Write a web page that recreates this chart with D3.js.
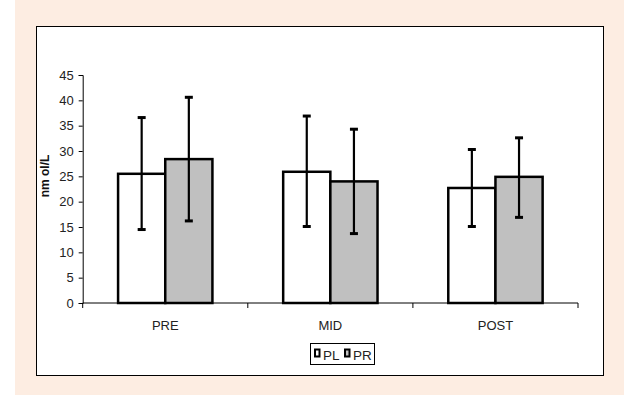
<!DOCTYPE html>
<html>
<head>
<meta charset="utf-8">
<script src="https://cdn.jsdelivr.net/npm/d3@7"></script>
<style>
  body { margin: 0; background: #fff; }
  text { font-family: "Liberation Sans", Arial, sans-serif; }
</style>
</head>
<body>
<svg id="main-svg" width="639" height="395"></svg>
<script>
// chart data
var categories = ['PRE', 'MID', 'POST'];
var series = ['PL', 'PR'];
var plMean = [25.5, 25.9, 22.7];
var prMean = [28.4, 24.0, 24.9];
var plUpper = [36.6, 36.9, 30.3];
var plLower = [14.5, 15.1, 15.1];
var prUpper = [40.6, 34.3, 32.6];
var prLower = [16.2, 13.7, 16.9];
var yTicks = [0, 5, 10, 15, 20, 25, 30, 35, 40, 45];

var fills = { PL: '#ffffff', PR: '#c0c0c0' };

var svg = d3.select('#main-svg');

// peach page panel and white chart box
svg.append('rect')
    .attr('x', 15).attr('y', 0)
    .attr('width', 609).attr('height', 395)
    .attr('fill', '#fdede2');
svg.append('rect')
    .attr('x', 36.5).attr('y', 26.5)
    .attr('width', 567).attr('height', 349)
    .attr('fill', '#ffffff')
    .attr('stroke', '#000').attr('stroke-width', 1);

var x0 = 82.7, x1 = 578, yTop = 75, yBot = 303;

var x = d3.scaleBand().domain(categories).range([x0, x1]).paddingInner(0).paddingOuter(0);
var xs = d3.scaleBand().domain(series).range([0, x.bandwidth()]).paddingInner(0).paddingOuter(0.75);
var y = d3.scaleLinear().domain([0, 45]).range([yBot, yTop]);

var rows = categories.map(function(c, i) {
    return [
        { cat: c, s: 'PL', v: plMean[i], hi: plUpper[i], lo: plLower[i] },
        { cat: c, s: 'PR', v: prMean[i], hi: prUpper[i], lo: prLower[i] }
    ];
});
var flat = [].concat.apply([], rows);

// bars
svg.append('g').selectAll('rect')
    .data(flat).enter().append('rect')
    .attr('x', function(d) { return x(d.cat) + xs(d.s); })
    .attr('y', function(d) { return y(d.v); })
    .attr('width', xs.bandwidth())
    .attr('height', function(d) { return y(0) - y(d.v); })
    .attr('fill', function(d) { return fills[d.s]; })
    .attr('stroke', '#000')
    .attr('stroke-width', 2.5);

// error bars
var err = svg.append('g').attr('stroke', '#000').attr('stroke-width', 2.2);
flat.forEach(function(d) {
    var cx = x(d.cat) + xs(d.s) + xs.bandwidth() / 2;
    err.append('line').attr('x1', cx).attr('x2', cx).attr('y1', y(d.hi)).attr('y2', y(d.lo));
    err.append('line').attr('x1', cx - 4).attr('x2', cx + 4).attr('y1', y(d.hi)).attr('y2', y(d.hi)).attr('stroke-width', 3);
    err.append('line').attr('x1', cx - 4).attr('x2', cx + 4).attr('y1', y(d.lo)).attr('y2', y(d.lo)).attr('stroke-width', 3);
});

// y axis
var yAxis = svg.append('g')
    .attr('transform', 'translate(' + x0 + ',0)')
    .call(d3.axisLeft(y).tickValues(yTicks).tickSize(4).tickPadding(5));
yAxis.select('.domain').attr('stroke', '#000');
yAxis.selectAll('text').attr('font-size', 13).attr('fill', '#222')
    .attr('font-family', '"Liberation Sans", Arial, sans-serif');

// x axis with Excel-like ticks between categories
svg.append('line')
    .attr('x1', x0).attr('x2', x1).attr('y1', yBot).attr('y2', yBot)
    .attr('stroke', '#000').attr('stroke-width', 1);
var bounds = categories.map(function(c) { return x(c); }).concat([x1]);
svg.append('g').selectAll('line')
    .data(bounds).enter().append('line')
    .attr('x1', function(d) { return d; }).attr('x2', function(d) { return d; })
    .attr('y1', yBot).attr('y2', yBot + 5)
    .attr('stroke', '#000');
svg.append('g').selectAll('text')
    .data(categories).enter().append('text')
    .attr('x', function(d) { return x(d) + x.bandwidth() / 2; })
    .attr('y', 329.5)
    .attr('text-anchor', 'middle')
    .attr('font-size', 13)
    .attr('fill', '#222')
    .text(function(d) { return d; });

// y title
svg.append('text')
    .attr('transform', 'translate(49,176) rotate(-90)')
    .attr('text-anchor', 'middle')
    .attr('font-size', 12)
    .attr('font-weight', 'bold')
    .attr('fill', '#111')
    .text('nm ol/L');

// legend
var leg = svg.append('g');
leg.append('rect')
    .attr('x', 310.5).attr('y', 343.5)
    .attr('width', 64).attr('height', 21)
    .attr('fill', '#fff').attr('stroke', '#000');
var legX = [315, 345];
series.forEach(function(s, i) {
    leg.append('rect')
        .attr('x', legX[i]).attr('y', 349.5)
        .attr('width', 4.5).attr('height', 7)
        .attr('fill', fills[s]).attr('stroke', '#000').attr('stroke-width', 2);
    leg.append('text')
        .attr('x', legX[i] + 8).attr('y', 359.5)
        .attr('font-size', 13.5).attr('fill', '#222')
        .text(s);
});
</script>
</body>
</html>
